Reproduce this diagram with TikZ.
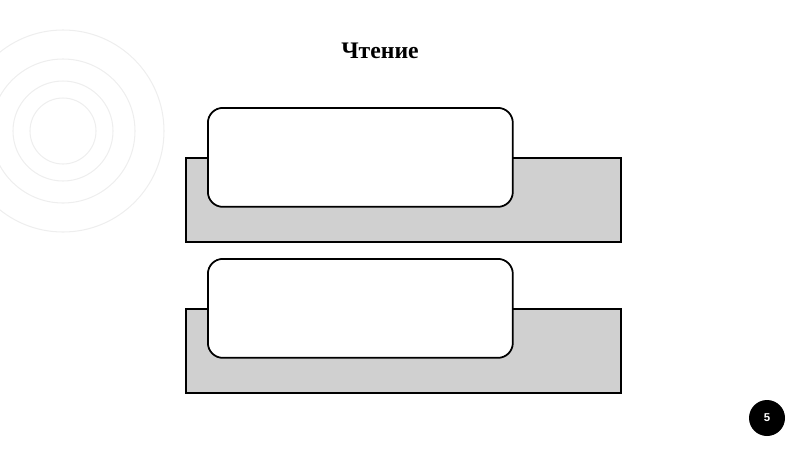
\documentclass[tikz,border=0pt]{standalone}
\usepackage{fontspec}
\setmainfont{Liberation Serif}
\setsansfont{Liberation Sans}
\usepackage{xcolor}
\definecolor{slabgray}{HTML}{D0D0D0}
\definecolor{ringgray}{HTML}{EEEEEE}

\begin{document}
\begin{tikzpicture}[x=0.02cm,y=-0.02cm]
  \useasboundingbox (0,0) rectangle (800,450);
  % decorative rings
  \foreach \r in {33,50,72,101}
    \draw[ringgray,line width=0.6pt] (63,131) circle (\r);
  \node[font=\bfseries\fontsize{13.5}{15}\selectfont] (title) at (380,51) {Чтение};
  \begin{scope}[line width=1pt]
    \node[draw,fill=slabgray,minimum width=8.7cm,minimum height=1.68cm,
      anchor=north west,inner sep=0pt] (slabA) at (185,157) {};
    \node[draw,fill=white,rounded corners=0.3cm,minimum width=6.1cm,
      minimum height=1.98cm,anchor=north west,inner sep=0pt] (cardA) at (207,107) {};
    \node[draw,fill=slabgray,minimum width=8.7cm,minimum height=1.68cm,
      anchor=north west,inner sep=0pt] (slabB) at (185,308) {};
    \node[draw,fill=white,rounded corners=0.3cm,minimum width=6.1cm,
      minimum height=1.98cm,anchor=north west,inner sep=0pt] (cardB) at (207,258) {};
  \end{scope}
  \node[circle,fill=black,minimum size=0.72cm,inner sep=0pt,text=white,
    font=\sffamily\bfseries\fontsize{6.5}{7}\selectfont] (page) at (767,418) {5};
\end{tikzpicture}
\end{document}
